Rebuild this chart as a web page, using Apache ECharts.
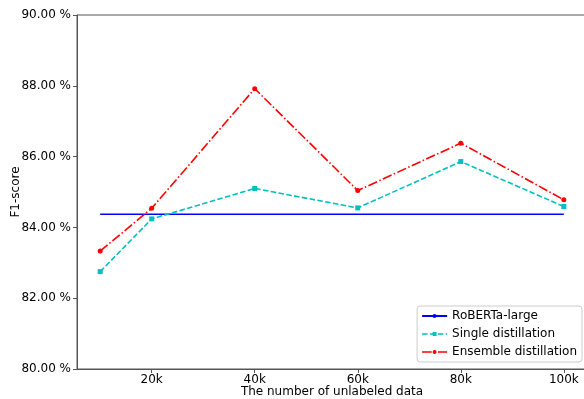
<!DOCTYPE html>
<html>
<head>
<meta charset="utf-8">
<script src="https://cdn.jsdelivr.net/npm/echarts@6/dist/echarts.min.js"></script>
<style>
  html, body { margin: 0; padding: 0; background: #fff; }
  #box { width: 584px; height: 399px; }
</style>
</head>
<body>
<div id="box"></div>
<script>
// amounts of unlabeled data
const sizes = [10000, 20000, 40000, 60000, 80000, 100000]
const robertaScores = [84.37, 84.37, 84.37, 84.37, 84.37, 84.37]
const singleScores = [82.75, 84.24, 85.1, 84.55, 85.86, 84.59]
const ensembleScores = [83.33, 84.54, 87.92, 85.04, 86.38, 84.78]
const xTicks = [20000, 40000, 60000, 80000, 100000]

const font = 'DejaVu Sans'
const axisColor = '#555'
const singleDash = [5.5, 2.4]
const ensembleDash = [9.6, 2.4, 1.5, 2.4]

function pairs(ys) {
  return sizes.map((x, i) => [x, ys[i]])
}

const myChart = echarts.init(document.getElementById('box'))
myChart.setOption({
  animation: false,
  textStyle: { fontFamily: font },
  grid: {
    left: 77,
    top: 15,
    right: -3,
    bottom: 30,
    outerBoundsMode: 'none',
    containLabel: false,
    show: true,
    borderColor: axisColor,
    borderWidth: 1
  },
  xAxis: {
    type: 'value',
    min: 5500,
    max: 104500,
    name: 'The number of unlabeled data',
    nameLocation: 'middle',
    nameMoveOverlap: false,
    nameGap: 17,
    nameTextStyle: { fontSize: 12, color: '#000', fontFamily: font },
    axisLine: { show: true, lineStyle: { color: axisColor } },
    axisTick: { show: true, length: 4, customValues: xTicks, lineStyle: { color: axisColor } },
    axisLabel: {
      customValues: xTicks,
      fontSize: 12,
      color: '#000',
      margin: 5,
      formatter: v => (v / 1000) + 'k'
    },
    splitLine: { show: false }
  },
  yAxis: {
    type: 'value',
    min: 80,
    max: 90,
    interval: 2,
    name: 'F1-score',
    nameLocation: 'middle',
    nameMoveOverlap: false,
    nameGap: 55,
    nameTextStyle: { fontSize: 12, color: '#000', fontFamily: font },
    axisLine: { show: true, lineStyle: { color: axisColor } },
    axisTick: { show: true, length: 4, lineStyle: { color: axisColor } },
    axisLabel: {
      fontSize: 12,
      color: '#000',
      margin: 6,
      formatter: v => v.toFixed(2) + ' %'
    },
    splitLine: { show: false }
  },
  legend: {
    right: 2,
    bottom: 37,
    orient: 'vertical',
    backgroundColor: '#fff',
    borderColor: '#ccc',
    borderWidth: 1,
    borderRadius: 3,
    padding: [4, 5, 4, 4],
    itemGap: 6,
    itemWidth: 25,
    itemHeight: 5,
    textStyle: { fontSize: 12, color: '#000', fontFamily: font },
    data: [
      { name: 'RoBERTa-large' },
      { name: 'Single distillation', lineStyle: { type: singleDash, width: 1.6 } },
      { name: 'Ensemble distillation', lineStyle: { type: ensembleDash, width: 1.6 } }
    ]
  },
  series: [
    {
      name: 'RoBERTa-large',
      type: 'line',
      data: pairs(robertaScores),
      color: '#0000ff',
      showSymbol: false,
      symbol: 'none',
      lineStyle: { width: 1.6, color: '#0000ff' }
    },
    {
      name: 'Single distillation',
      type: 'line',
      data: pairs(singleScores),
      color: '#00bfbf',
      symbol: 'rect',
      symbolSize: 5,
      itemStyle: { color: '#00bfbf' },
      lineStyle: { width: 1.6, color: '#00bfbf', type: singleDash }
    },
    {
      name: 'Ensemble distillation',
      type: 'line',
      data: pairs(ensembleScores),
      color: '#ff0000',
      symbol: 'circle',
      symbolSize: 5,
      itemStyle: { color: '#ff0000' },
      lineStyle: { width: 1.6, color: '#ff0000', type: ensembleDash }
    }
  ]
})
</script>
</body>
</html>
